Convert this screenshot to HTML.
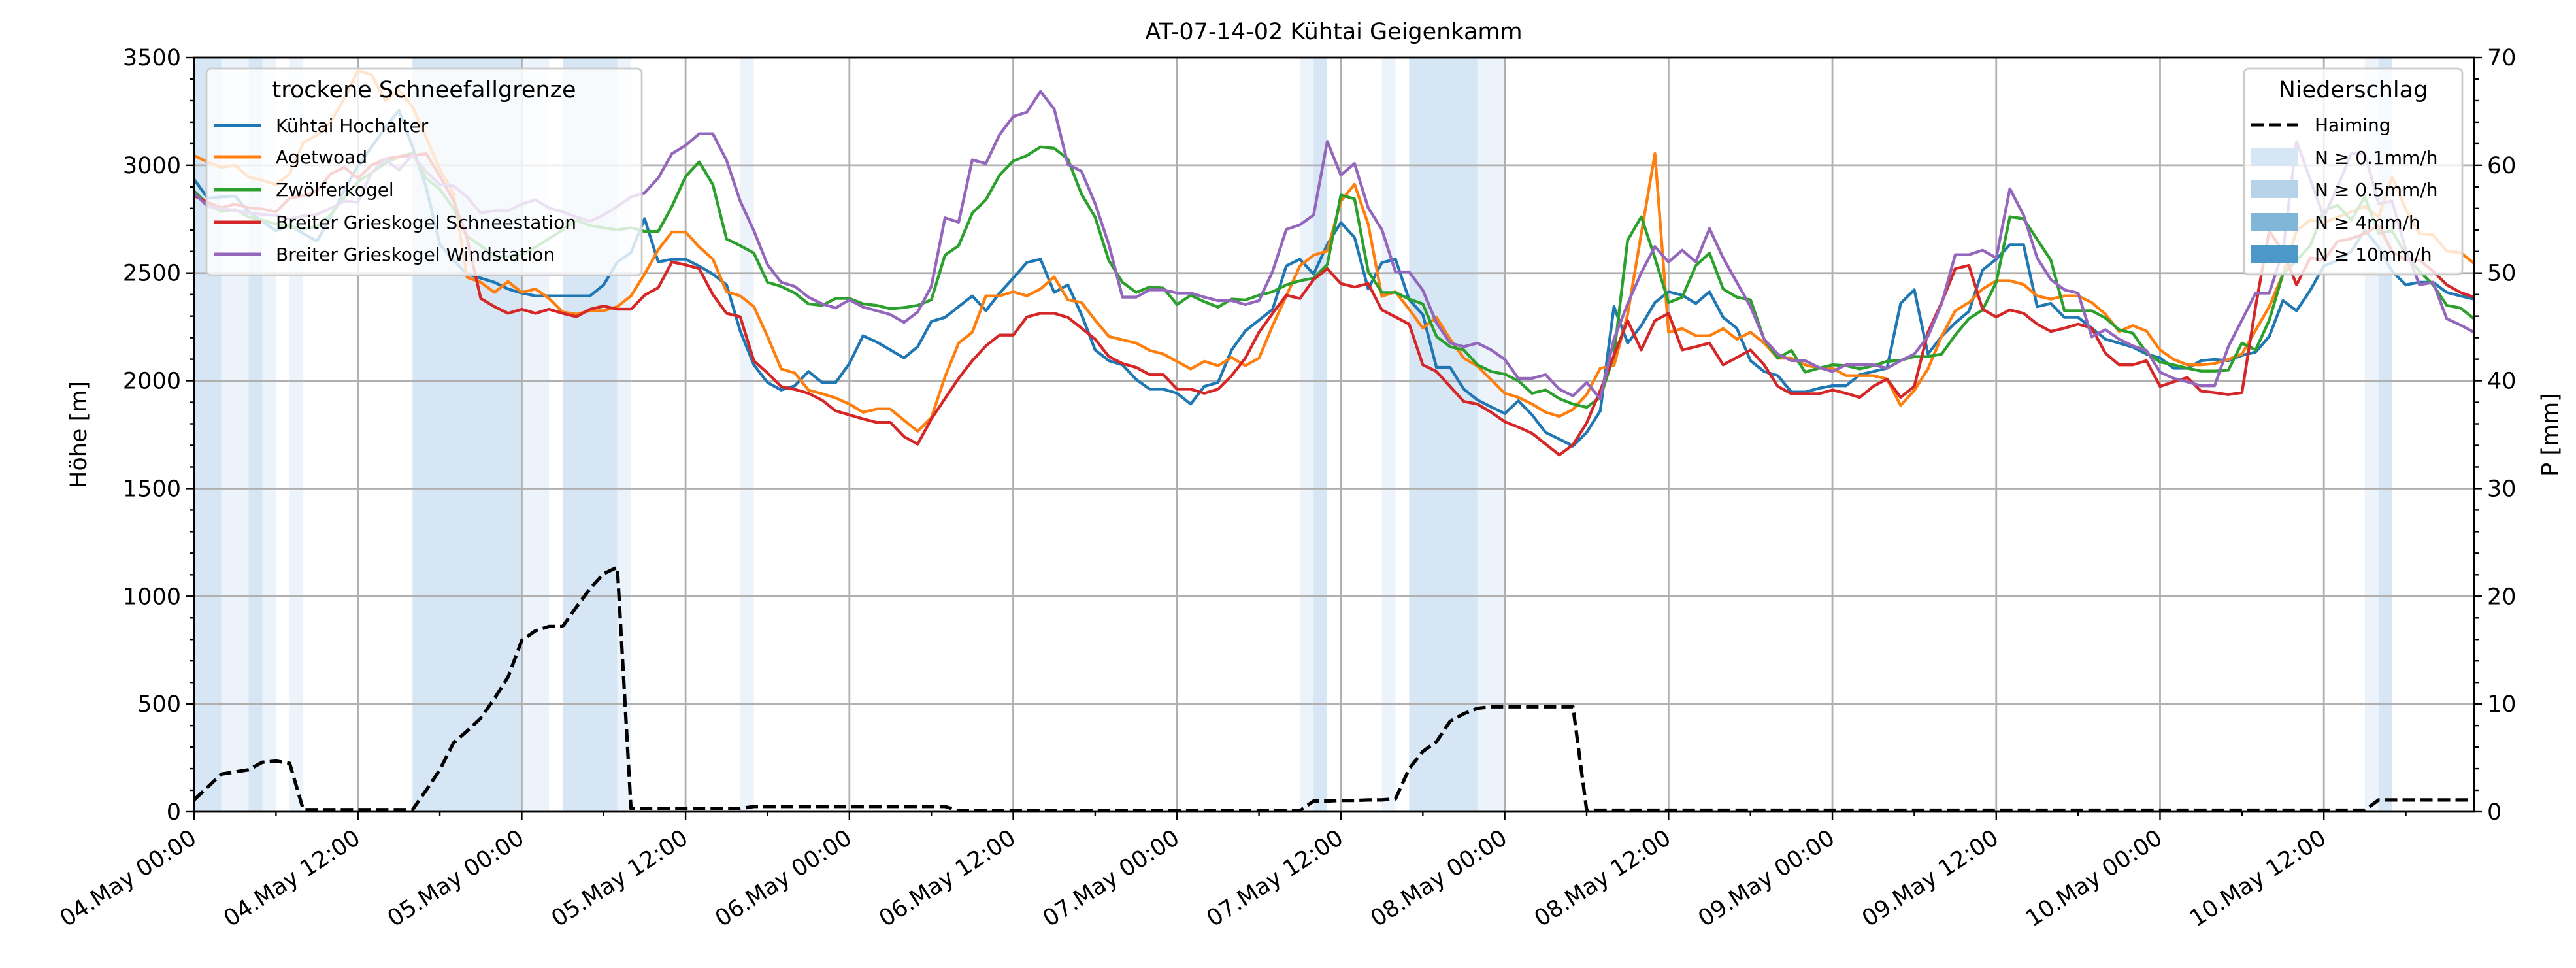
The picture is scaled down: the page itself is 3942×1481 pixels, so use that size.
<!DOCTYPE html>
<html><head><meta charset="utf-8">
<style>
html,body{margin:0;padding:0;background:#fff;}
svg{display:block;font-family:"DejaVu Sans","Liberation Sans",sans-serif;}
</style></head>
<body>
<svg id="chart" xmlns="http://www.w3.org/2000/svg" width="3942" height="1481" viewBox="0 0 3942 1481">
<rect x="0" y="0" width="3942" height="1481" fill="#fff"/>
<g id="spans"></g>
<g id="grid"></g>
<g id="series"></g>
<g id="axes"></g>
<text x="2041" y="60" font-size="35" text-anchor="middle">AT-07-14-02 Kühtai Geigenkamm</text>
<text transform="translate(132,665) rotate(-90)" font-size="35" text-anchor="middle">Höhe [m]</text>
<text transform="translate(3914,665) rotate(-90)" font-size="35" text-anchor="middle">P [mm]</text>
<g id="legend-left">
<rect x="316" y="105" width="666" height="316" rx="7" fill="#fff" fill-opacity="0.8" stroke="#cccccc" stroke-width="2.8"/>
<text x="649" y="149" font-size="35" text-anchor="middle">trockene Schneefallgrenze</text>
<line x1="327" y1="192" x2="399" y2="192" stroke="#1f77b4" stroke-width="5"/>
<text x="422" y="202" font-size="28">Kühtai Hochalter</text>
<line x1="327" y1="240" x2="399" y2="240" stroke="#ff7f0e" stroke-width="5"/>
<text x="422" y="250" font-size="28">Agetwoad</text>
<line x1="327" y1="290" x2="399" y2="290" stroke="#2ca02c" stroke-width="5"/>
<text x="422" y="300" font-size="28">Zwölferkogel</text>
<line x1="327" y1="340" x2="399" y2="340" stroke="#d62728" stroke-width="5"/>
<text x="422" y="350" font-size="28">Breiter Grieskogel Schneestation</text>
<line x1="327" y1="389" x2="399" y2="389" stroke="#9467bd" stroke-width="5"/>
<text x="422" y="399" font-size="28">Breiter Grieskogel Windstation</text>
</g>
<g id="legend-right">
<rect x="3434" y="105" width="334" height="315" rx="7" fill="#fff" fill-opacity="0.8" stroke="#cccccc" stroke-width="2.8"/>
<text x="3601" y="149" font-size="35" text-anchor="middle">Niederschlag</text>
<line x1="3445" y1="191" x2="3516" y2="191" stroke="#000" stroke-width="5" stroke-dasharray="19 8"/>
<text x="3542" y="201" font-size="28">Haiming</text>
<rect x="3445" y="227" width="71" height="27" fill="#d6e6f4"/>
<text x="3542" y="251" font-size="28">N ≥ 0.1mm/h</text>
<rect x="3445" y="276" width="71" height="27" fill="#b6d3ea"/>
<text x="3542" y="300" font-size="28">N ≥ 0.5mm/h</text>
<rect x="3445" y="326" width="71" height="27" fill="#80b7d9"/>
<text x="3542" y="350" font-size="28">N ≥ 4mm/h</text>
<rect x="3445" y="375" width="71" height="27" fill="#4b98c9"/>
<text x="3542" y="399" font-size="28">N ≥ 10mm/h</text>
</g>
</svg>
<script>
// ---- data ----
const xTickLabels = ["04.May 00:00","04.May 12:00","05.May 00:00","05.May 12:00","06.May 00:00","06.May 12:00","07.May 00:00","07.May 12:00","08.May 00:00","08.May 12:00","09.May 00:00","09.May 12:00","10.May 00:00","10.May 12:00"];
const xTickHours = [0,12,24,36,48,60,72,84,96,108,120,132,144,156];
const yTicks = [0,500,1000,1500,2000,2500,3000,3500];
const y2Ticks = [0,10,20,30,40,50,60,70];
const spanStart = [0,2,4,5,7,16,24,27,31,40,81,82,87,89,94,159,160];
const spanEnd   = [2,4,5,6,8,24,26,31,32,41,82,83,88,94,96,160,161];
const spanLevel = [2,1,2,1,1,2,1,2,1,1,1,2,1,2,1,1,2];
const kuehtai = [2935,2847,2853,2857,2784,2740,2696,2721,2683,2648,2759,2884,2997,3085,3173,3255,3085,2897,2633,2558,2495,2476,2457,2426,2407,2394,2394,2394,2394,2394,2445,2551,2595,2752,2551,2564,2564,2532,2495,2445,2231,2074,1992,1957,1977,2043,1992,1992,
2080,2209,2180,2143,2106,2158,2275,2294,2344,2394,2325,2407,2476,2549,2564,2410,2445,2307,2143,2093,2074,2006,1961,1961,1942,1892,1974,1992,2143,2231,2281,2332,2533,2564,2495,2633,2734,2665,2426,2548,2564,2376,2307,2062,2062,1961,1911,1879,
1848,1907,1842,1760,1729,1697,1760,1861,2344,2175,2256,2363,2413,2397,2359,2413,2294,2244,2093,2043,2024,1948,1948,1965,1977,1977,2028,2043,2058,2359,2422,2124,2206,2269,2322,2514,2564,2631,2631,2344,2359,2294,2294,2244,2193,2175,2156,2124,
2106,2058,2058,2093,2099,2093,2118,2133,2206,2372,2325,2420,2533,2558,2600,2700,2620,2508,2445,2457,2457,2410,2394,2379];
const agetwoad = [3045,3015,2990,3000,2945,2930,2910,2960,3105,3140,3200,3310,3440,3420,3300,3350,3270,3130,2980,2870,2480,2457,2410,2460,2410,2426,2382,2319,2309,2325,2325,2344,2394,2495,2608,2690,2690,2621,2564,2413,2394,2344,2206,2055,2036,1957,1940,1920,
1892,1854,1869,1869,1817,1766,1829,2018,2175,2225,2394,2394,2413,2394,2426,2482,2376,2363,2281,2206,2190,2175,2141,2124,2090,2055,2090,2070,2108,2070,2105,2256,2394,2533,2583,2602,2834,2912,2727,2392,2413,2332,2244,2294,2193,2105,2068,2005,
1942,1923,1892,1854,1835,1867,1936,2058,2070,2307,2683,3054,2225,2242,2209,2209,2242,2193,2225,2175,2105,2105,2074,2058,2058,2024,2024,2024,2008,1886,1955,2055,2206,2325,2363,2426,2464,2464,2447,2394,2379,2394,2394,2363,2309,2229,2256,2231,
2143,2099,2074,2074,2080,2099,2124,2234,2344,2495,2696,2746,2734,2759,2784,2809,2760,2947,2796,2683,2677,2602,2595,2545];
const zwoelferkogel = [2880,2820,2785,2795,2760,2745,2727,2715,2705,2715,2770,2850,2924,2965,3010,3040,3055,2940,2888,2800,2670,2627,2576,2576,2585,2620,2660,2700,2745,2720,2710,2700,2710,2693,2693,2809,2947,3016,2910,2658,2627,2593,2457,2438,2407,2357,2350,2382,
2382,2357,2350,2334,2340,2350,2376,2583,2627,2778,2840,2954,3020,3045,3085,3079,3029,2866,2759,2558,2457,2410,2435,2430,2354,2397,2367,2342,2379,2375,2397,2413,2445,2464,2476,2539,2862,2844,2508,2410,2410,2379,2357,2206,2158,2143,2074,2043,
2031,2000,1942,1957,1917,1892,1877,1923,2118,2652,2761,2570,2363,2388,2535,2593,2426,2388,2376,2193,2105,2141,2040,2058,2074,2070,2055,2070,2090,2095,2112,2112,2124,2212,2288,2329,2457,2761,2752,2656,2560,2325,2325,2325,2291,2237,2221,2131,
2087,2074,2058,2045,2045,2049,2175,2143,2281,2495,2558,2627,2790,2815,2746,2853,2683,2696,2583,2508,2445,2350,2338,2288];
const schneestation = [2859,2828,2803,2820,2803,2797,2784,2847,2859,2880,2960,2990,2940,3000,3030,3040,3045,3054,2950,2836,2660,2382,2344,2313,2332,2313,2332,2313,2297,2332,2347,2332,2332,2397,2432,2551,2538,2520,2400,2313,2297,2093,2036,1973,1960,1942,1910,1860,
1842,1823,1807,1807,1741,1706,1823,1917,2011,2093,2162,2212,2212,2296,2313,2313,2294,2244,2193,2112,2080,2062,2028,2028,1961,1961,1942,1961,2024,2105,2225,2313,2397,2382,2470,2520,2451,2435,2451,2329,2296,2263,2074,2043,1973,1904,1892,1854,
1810,1785,1756,1706,1656,1703,1804,1955,2118,2279,2143,2279,2313,2143,2158,2175,2074,2108,2143,2074,1974,1940,1940,1940,1957,1942,1923,1974,2008,1923,1974,2225,2363,2520,2535,2332,2296,2329,2313,2263,2229,2244,2263,2244,2128,2074,2074,2093,
1974,1995,2015,1952,1945,1936,1945,2344,2696,2600,2445,2570,2560,2646,2660,2683,2720,2600,2560,2560,2508,2445,2410,2388];
const windstation = [2872,2809,2800,2790,2780,2772,2768,2750,2765,2772,2800,2834,2828,2966,3029,2978,3048,2970,2910,2904,2853,2778,2790,2790,2820,2840,2802,2784,2760,2740,2770,2809,2853,2872,2941,3054,3092,3146,3146,3023,2834,2696,2539,2457,2438,2388,2357,2338,
2376,2342,2325,2307,2271,2319,2438,2756,2736,3025,3008,3142,3226,3246,3343,3261,3004,2972,2822,2633,2388,2388,2422,2422,2407,2407,2388,2372,2372,2354,2372,2508,2702,2724,2769,3111,2954,3008,2803,2702,2505,2505,2420,2269,2175,2158,2175,2143,
2099,2011,2011,2028,1961,1930,1992,1917,2193,2357,2501,2623,2551,2606,2551,2706,2570,2457,2344,2193,2124,2093,2093,2062,2043,2074,2074,2074,2058,2093,2124,2206,2357,2585,2585,2606,2570,2891,2769,2570,2470,2422,2407,2204,2237,2193,2162,2141,
2040,2011,1995,1977,1977,2158,2281,2407,2407,2600,3111,2935,2759,2900,3054,3054,2822,2834,2608,2445,2457,2288,2259,2225];
const haiming = [1.1,2.3,3.5,3.7,3.9,4.6,4.7,4.5,0.2,0.2,
0.2,0.2,0.2,0.2,0.2,0.2,0.2,2.0,3.9,6.4,
7.5,8.7,10.5,12.5,15.9,16.8,17.2,17.2,19.0,20.7,
22.1,22.7,0.3,0.3,0.3,0.3,0.3,0.3,0.3,0.3,
0.3,0.5,0.5,0.5,0.5,0.5,0.5,0.5,0.5,0.5,0.5,0.5,0.5,0.5,0.5,0.5,
0.1,0.1,0.1,0.1,0.1,0.1,0.1,0.1,0.1,0.1,0.1,0.1,0.1,0.1,0.1,0.1,0.1,0.1,0.1,0.1,0.1,0.1,0.1,0.1,0.1,0.1,
1.0,1.0,1.05,1.05,1.1,1.1,
1.2,4.0,5.6,6.5,8.4,9.1,9.6,9.75,
9.75,9.75,9.75,9.75,9.75,9.75,
0.15,0.15,0.15,0.15,0.15,0.15,0.15,0.15,0.15,0.15,0.15,0.15,0.15,0.15,0.15,0.15,0.15,0.15,0.15,0.15,
0.15,0.15,0.15,0.15,0.15,0.15,0.15,0.15,0.15,0.15,0.15,0.15,0.15,0.15,0.15,0.15,0.15,0.15,0.15,0.15,
0.15,0.15,0.15,0.15,0.15,0.15,0.15,0.15,0.15,0.15,0.15,0.15,0.15,0.15,0.15,0.15,0.15,0.15,
1.1,1.1,1.1,1.1,1.1,1.1,1.1,1.1];

// ---- layout ----
const L=297,R=3786,T=88,B=1242,XMAX=167,YMAX=3500,Y2MAX=70;
const NS="http://www.w3.org/2000/svg";
function xs(h){return L+(R-L)*h/XMAX;}
function ys(v){return B-(B-T)*v/YMAX;}
function y2s(v){return B-(B-T)*v/Y2MAX;}
function mk(tag,attrs,parent){const e=document.createElementNS(NS,tag);for(const k in attrs)e.setAttribute(k,attrs[k]);parent.appendChild(e);return e;}

const gSp=document.getElementById('spans');
const spanColors=["","#edf3fa","#d6e6f4"];
for(let i=0;i<spanStart.length;i++){
  const r=mk('rect',{x:xs(spanStart[i]),y:T,width:xs(spanEnd[i])-xs(spanStart[i]),height:B-T,fill:spanColors[spanLevel[i]]},gSp);
  
  
}

const gG=document.getElementById('grid');
xTickHours.forEach(h=>{
  const l=mk('line',{x1:xs(h),x2:xs(h),y1:T,y2:B,stroke:'#b0b0b0','stroke-width':2.8},gG);
  
  
});
yTicks.forEach(v=>{
  const l=mk('line',{x1:L,x2:R,y1:ys(v),y2:ys(v),stroke:'#b0b0b0','stroke-width':2.8},gG);
  
  
});

const gS=document.getElementById('series');
function line(vals,scale,color,name,dash){
  const pts=vals.map((v,i)=>xs(i).toFixed(1)+','+scale(v).toFixed(1)).join(' ');
  const p=mk('polyline',{points:pts,fill:'none',stroke:color,'stroke-width':dash?5.2:4.4,'stroke-linejoin':'round'},gS);
  if(dash)p.setAttribute('stroke-dasharray','19 8');
  
  
}
line(kuehtai,ys,'#1f77b4','line-kuehtai-hochalter');
line(agetwoad,ys,'#ff7f0e','line-agetwoad');
line(zwoelferkogel,ys,'#2ca02c','line-zwoelferkogel');
line(schneestation,ys,'#d62728','line-schneestation');
line(windstation,ys,'#9467bd','line-windstation');
line(haiming,y2s,'#000','line-haiming-precip',true);

const gA=document.getElementById('axes');
const fr=mk('rect',{x:L,y:T,width:R-L,height:B-T,fill:'none',stroke:'#000','stroke-width':2.8},gA);


for(let h=0;h<=XMAX;h+=6){
  const major=(h%12===0);
  const t=mk('line',{x1:xs(h),x2:xs(h),y1:B,y2:B+(major?12:7),stroke:'#000','stroke-width':2.4},gA);
  
  
}
xTickHours.forEach((h,i)=>{
  const t=mk('text',{transform:`translate(${xs(h)+6},${B+46}) rotate(-33)`,'font-size':35,'text-anchor':'end'},gA);
  t.textContent=xTickLabels[i];
  
  
});
for(let v=0;v<=YMAX;v+=100){
  const major=(v%500===0);
  const t=mk('line',{x1:L,x2:L-(major?12:7),y1:ys(v),y2:ys(v),stroke:'#000','stroke-width':2.4},gA);
  
  
}
yTicks.forEach(v=>{
  const t=mk('text',{x:L-20,y:ys(v)+12,'font-size':35,'text-anchor':'end'},gA);
  t.textContent=String(v);
  
  
});
for(let v=0;v<=Y2MAX;v+=2){
  const major=(v%10===0);
  const t=mk('line',{x1:R,x2:R+(major?12:7),y1:y2s(v),y2:y2s(v),stroke:'#000','stroke-width':2.4},gA);
  
  
}
y2Ticks.forEach(v=>{
  const t=mk('text',{x:R+20,y:y2s(v)+12,'font-size':35,'text-anchor':'start'},gA);
  t.textContent=String(v);
  
  
});
const svg=document.getElementById('chart');
svg.appendChild(document.getElementById('legend-left'));
svg.appendChild(document.getElementById('legend-right'));
</script>
</body></html>
